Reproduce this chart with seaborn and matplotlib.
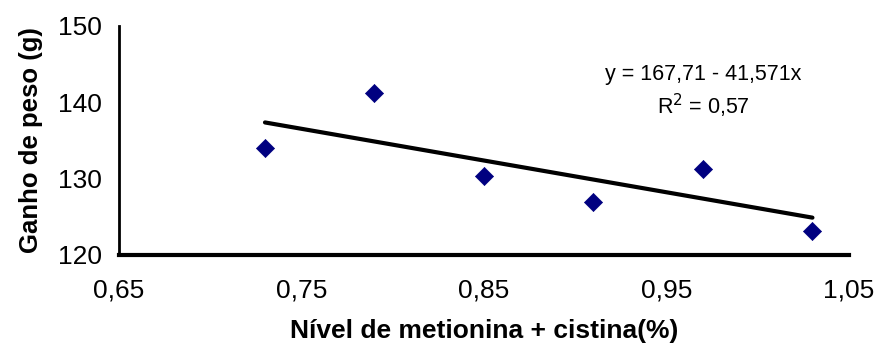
import numpy as np
import pandas as pd
import matplotlib
matplotlib.use("Agg")
import matplotlib.pyplot as plt
import seaborn as sns

# Data
nivel = [0.73, 0.79, 0.85, 0.91, 0.97, 1.03]
ganho = [134.0, 141.2, 130.3, 126.9, 131.3, 123.1]
intercept = 167.71
slope = -41.571
x_ticks = [0.65, 0.75, 0.85, 0.95, 1.05]
x_tick_labels = ["0,65", "0,75", "0,85", "0,95", "1,05"]
y_ticks = [120, 130, 140, 150]
y_tick_labels = ["120", "130", "140", "150"]

sns.set_theme(style="white")
plt.rcParams['font.family'] = ['Liberation Sans', 'DejaVu Sans']

fig = plt.figure(figsize=(8.77, 3.54), dpi=100)
ax = fig.add_axes([0.1357, 0.2797, 0.8323, 0.6469])

df = pd.DataFrame({"x": nivel, "y": ganho})
line_x = [min(nivel), max(nivel)]
line_df = pd.DataFrame({"x": line_x, "y": [intercept + slope * v for v in line_x]})

sns.lineplot(data=line_df, x="x", y="y", ax=ax, color="black", linewidth=3, zorder=2)
sns.scatterplot(data=df, x="x", y="y", ax=ax, marker="D", s=85, color="#000080",
                edgecolor="#000080", linewidth=0.5, zorder=3)

ax.set_xlim(0.65, 1.05)
ax.set_ylim(120, 150)
ax.set_xticks(x_ticks)
ax.set_xticklabels(x_tick_labels)
ax.set_yticks(y_ticks)
ax.set_yticklabels(y_tick_labels)

for s in ["top", "right"]:
    ax.spines[s].set_visible(False)
ax.spines["left"].set_color("black")
ax.spines["left"].set_linewidth(2)
ax.spines["bottom"].set_color("black")
ax.spines["bottom"].set_linewidth(3)
ax.tick_params(axis="both", which="major", direction="out", color="black",
               labelsize=19, labelcolor="black")
ax.tick_params(axis="x", length=6, width=3, pad=11)
ax.tick_params(axis="y", length=6, width=2, pad=6)
ax.grid(False)

ax.set_xlabel("Nível de metionina + cistina(%)", fontsize=19, fontweight="bold",
              labelpad=12, color="black")
ax.set_ylabel("Ganho de peso (g)", fontsize=18.5, fontweight="bold",
              labelpad=11, color="black")

ax.text(0.80, 0.71, "y = 167,71 - 41,571x\nR$^2$ = 0,57", transform=ax.transAxes,
        ha="center", va="center", fontsize=15.5, linespacing=1.3, color="black")

fig.savefig("out.png", dpi=100)
